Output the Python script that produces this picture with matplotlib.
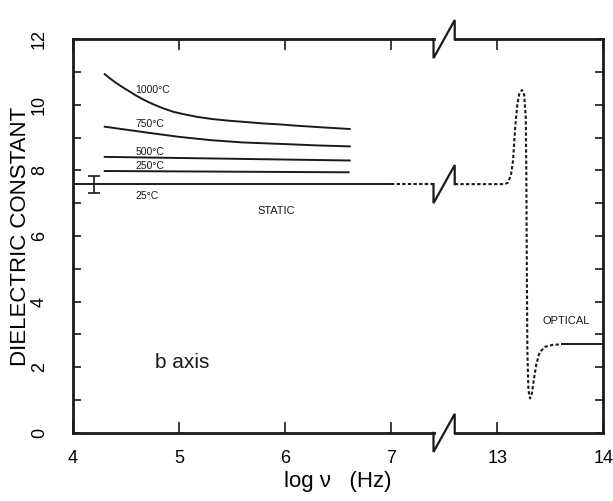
import numpy as np
import matplotlib
matplotlib.use('Agg')
import matplotlib.pyplot as plt

# values, x = log nu (Hz), y = dielectric constant
x_1000 = [4.30, 4.35, 4.40, 4.46, 4.52, 4.60, 4.68, 4.76, 4.85, 4.95, 5.06,
          5.17, 5.32, 5.48, 5.64, 5.79, 5.95, 6.11, 6.35, 6.61]
y_1000 = [10.93, 10.80, 10.68, 10.55, 10.43, 10.27, 10.13, 10.01, 9.89, 9.78,
          9.70, 9.63, 9.56, 9.51, 9.47, 9.43, 9.40, 9.36, 9.31, 9.26]
x_750 = [4.30, 4.50, 4.70, 5.00, 5.30, 5.60, 6.00, 6.30, 6.61]
y_750 = [9.33, 9.24, 9.15, 9.02, 8.92, 8.85, 8.80, 8.76, 8.73]
x_500 = [4.30, 6.61]
y_500 = [8.41, 8.30]
x_250 = [4.30, 6.60]
y_250 = [7.98, 7.94]
x_25 = [4.0, 7.0]
y_25 = [7.58, 7.58]

# static value carried on (dotted) up to the break
x_ext = [7.0, 7.4]
y_ext = [7.58, 7.58]

# optical resonance (dotted), then optical value (solid)
x_res = [12.6, 13.07, 13.10, 13.13, 13.15, 13.17, 13.19, 13.21, 13.235, 13.255,
         13.27, 13.275, 13.28, 13.285, 13.295, 13.31, 13.325, 13.345, 13.37,
         13.40, 13.45, 13.52, 13.61]
y_res = [7.58, 7.58, 7.62, 7.85, 8.3, 9.3, 10.0, 10.35, 10.45, 10.3,
         9.6, 8.0, 5.0, 2.5, 1.3, 1.05, 1.15, 1.6, 2.1,
         2.45, 2.62, 2.68, 2.70]
x_opt = [13.61, 14.0]
y_opt = [2.70, 2.70]

err_x, err_y, err_d = 4.2, 7.58, 0.26

x_ticks = [4, 5, 6, 7, 13, 14]
y_ticks = [0, 2, 4, 6, 8, 10, 12]

temp_labels = ['1000°C', '750°C', '500°C', '250°C', '25°C']
temp_label_y = [10.45, 9.42, 8.55, 8.12, 7.22]

# break in the log nu axis: 7.5 .. 12.5 is cut out
BRK_L, BRK_R, BRK_H = 7.4, 12.6, 0.58


def fwd(x):
    x = np.asarray(x, dtype=float)
    return np.where(x < 10, x, x - 5)


def inv(u):
    u = np.asarray(u, dtype=float)
    return np.where(u < 7.5, u, u + 5)


def zigzag(ax, y):
    ax.plot([BRK_L, BRK_L, BRK_R, BRK_R], [y, y - BRK_H, y + BRK_H, y],
            color='#1a1a1a', lw=1.6, clip_on=False, solid_joinstyle='miter')


plt.rcParams['font.family'] = ['Liberation Sans', 'DejaVu Sans']

fig = plt.figure(figsize=(6.13, 5.01), dpi=100)
ax = fig.add_axes([0.119, 0.136, 0.865, 0.786])
ax.set_xscale('function', functions=(fwd, inv))
ax.set_xlim(4, 14)
ax.set_ylim(0, 12)

lc = '#1a1a1a'
dots = (0, (1.6, 1.1))

ax.plot(x_1000, y_1000, color=lc, lw=1.4)
ax.plot(x_750, y_750, color=lc, lw=1.4)
ax.plot(x_500, y_500, color=lc, lw=1.4)
ax.plot(x_250, y_250, color=lc, lw=1.4)
ax.plot(x_25, y_25, color=lc, lw=1.4)
ax.plot(x_ext, y_ext, color=lc, lw=1.5, linestyle=dots)
ax.plot(x_res, y_res, color=lc, lw=1.5, linestyle=dots)
ax.plot(x_opt, y_opt, color=lc, lw=1.4)
ax.errorbar([err_x], [err_y], yerr=[err_d], fmt='none', ecolor=lc,
            elinewidth=1.2, capsize=4, capthick=1.2)

# axis frame with the break marks
for side in ['top', 'bottom']:
    ax.spines[side].set_visible(False)
for side in ['left', 'right']:
    ax.spines[side].set_linewidth(2)
    ax.spines[side].set_color(lc)
for yy in [0, 12]:
    ax.plot([4, BRK_L], [yy, yy], color=lc, lw=2, clip_on=False)
    ax.plot([BRK_R, 14], [yy, yy], color=lc, lw=2, clip_on=False)
    zigzag(ax, yy)
zigzag(ax, y_25[0])

ax.set_xticks(x_ticks)
ax.set_xticklabels([str(t) for t in x_ticks])
ax.set_yticks(y_ticks)
ax.set_yticks(range(1, 12, 2), minor=True)
ax.tick_params(axis='x', direction='in', top=True, length=8, width=1.2,
               labelsize=13, pad=12, color=lc)
ax.tick_params(axis='y', which='both', direction='in', right=True, length=6,
               width=1.2, color=lc)
ax.tick_params(axis='y', labelsize=13, labelrotation=90, pad=18)
for lab in ax.get_yticklabels():
    lab.set_va('center')

for t, ty in zip(temp_labels, temp_label_y):
    ax.text(4.59, ty, t, fontsize=7.5, color=lc, va='center', ha='left')
ax.text(5.92, 6.76, 'STATIC', fontsize=8, color=lc, ha='center', va='center')
ax.text(13.65, 3.4, 'OPTICAL', fontsize=8, color=lc, ha='center', va='center')
ax.text(4.77, 2.15, 'b axis', fontsize=15, color=lc, ha='left', va='center')

ax.set_ylabel('DIELECTRIC CONSTANT', fontsize=16, labelpad=0)
ax.set_xlabel('log ν   (Hz)', fontsize=16, labelpad=3)

fig.savefig('out.png', dpi=100)
